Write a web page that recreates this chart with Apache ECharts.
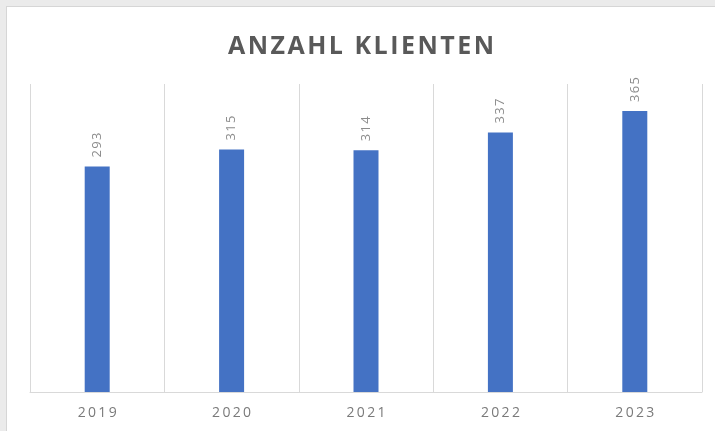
<!DOCTYPE html>
<html>
<head>
<meta charset="utf-8">
<script src="https://cdn.jsdelivr.net/npm/echarts@6/dist/echarts.min.js"></script>
<style>
  html, body { margin: 0; padding: 0; background: #ebebeb; width: 715px; height: 431px; overflow: hidden; }
  #chart { position: absolute; left: 6px; top: 6px; width: 709px; height: 425px; background: #fff;
           border-left: 1px solid #d6d6d6; border-top: 1px solid #d6d6d6; box-sizing: border-box; }
</style>
</head>
<body>
<div id="chart"></div>
<script>
const titleText = 'ANZAHL KLIENTEN'
const years = ['2019', '2020', '2021', '2022', '2023']
const clients = [293, 315, 314, 337, 365]

// gesperrte Schrift nachbauen
const spaced = (s, sep) => String(s).split('').join(sep || '\u200a')

let myChart = echarts.init(document.getElementById('chart'))
myChart.setOption({
  animation: false,
  title: {
    text: spaced(titleText),
    left: 'center',
    top: 22,
    textStyle: { fontFamily: 'Open Sans', fontWeight: 'bold', fontSize: 25, color: '#595959' }
  },
  grid: { left: 23, right: 13, top: 77, bottom: 39 },
  xAxis: {
    type: 'category',
    data: years,
    axisLine: { lineStyle: { color: '#d9d9d9', width: 1 } },
    axisTick: { show: false },
    splitLine: { show: true, lineStyle: { color: '#d9d9d9', width: 1 } },
    axisLabel: {
      formatter: v => spaced(v, '\u2009'),
      color: '#7a7a7a', fontFamily: 'Open Sans', fontSize: 14, margin: 14
    }
  },
  yAxis: {
    type: 'value',
    min: 0,
    max: 400,
    show: false
  },
  series: [{
    type: 'bar',
    data: clients,
    barWidth: 25,
    itemStyle: { color: '#4472c4' },
    label: {
      show: true,
      position: 'top',
      rotate: 90,
      align: 'left',
      verticalAlign: 'middle',
      distance: 9,
      formatter: p => spaced(p.value),
      color: '#8c8c8c',
      fontFamily: 'Open Sans',
      fontSize: 13
    }
  }]
})
window.onresize = function() {
  myChart.resize()
}
</script>
</body>
</html>
